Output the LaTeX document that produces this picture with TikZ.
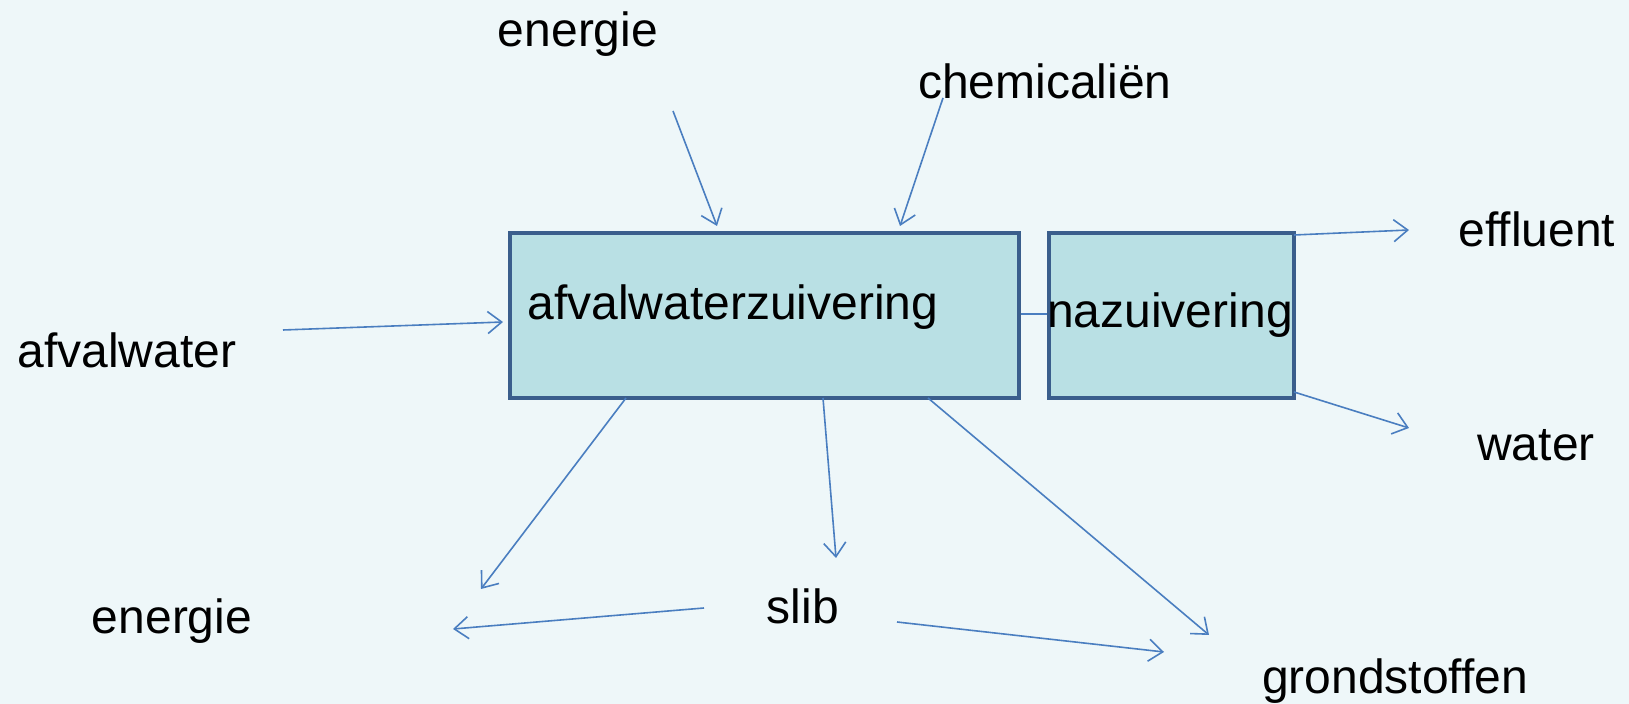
\documentclass[tikz,border=0pt]{standalone}
\usepackage{fontspec}
\setmainfont{Liberation Sans}
\usetikzlibrary{arrows.meta}
\definecolor{bg}{HTML}{EEF7F9}
\definecolor{boxfill}{HTML}{B9E0E4}
\definecolor{boxdraw}{HTML}{3A5E8C}
\definecolor{arr}{HTML}{4A7EC0}
\tikzset{
  box/.style={draw=boxdraw, fill=boxfill, line width=2.2pt, inner sep=0pt},
  lbl/.style={inner sep=0pt, font=\fontsize{24}{28}\selectfont},
  flow/.style={draw=arr, line width=0.8pt, -{Straight Barb[length=7pt,width=11pt,line width=0.8pt]}},
  link/.style={draw=arr, line width=0.8pt}
}
\begin{document}
\begin{tikzpicture}[x=0.5pt,y=-0.5pt]
\fill[bg] (0,0) rectangle (1629,704);
\useasboundingbox (0,0) rectangle (1629,704);
% boxes
\node[box, minimum width=254.5pt, minimum height=82.5pt, anchor=north west] (b1) at (508,231) {};
\node[box, minimum width=122.5pt, minimum height=82.5pt, anchor=north west] (b2) at (1047,231) {};
\node[lbl] (t1) at (733,307) {afvalwaterzuivering};
\node[lbl] (t2) at (1170,315) {nazuivering};
% labels
\node[lbl] (enIn) at (578,34) {energie};
\node[lbl] (chem) at (1045,81) {chemicaliën};
\node[lbl] (afv) at (127,350) {afvalwater};
\node[lbl] (eff) at (1537,229) {effluent};
\node[lbl] (wat) at (1536,445) {water};
\node[lbl] (enOut) at (172,621) {energie};
\node[lbl] (slib) at (803,606) {slib};
\node[lbl] (grond) at (1395,681) {grondstoffen};
% coordinates
\coordinate (enInS) at (673,111);
\coordinate (enInE) at (717,226);
\coordinate (chemS) at (943,98);
\coordinate (chemE) at (900,226);
\coordinate (afvS) at (283,330);
\coordinate (afvE) at (503,322);
\coordinate (effS) at (1294,235);
\coordinate (effE) at (1409,230);
\coordinate (watS) at (1294,392);
\coordinate (watE) at (1409,428);
\coordinate (b1a) at (626,398);
\coordinate (enOutE) at (481,589);
\coordinate (b1b) at (823,398);
\coordinate (slibE) at (836,558);
\coordinate (b1c) at (928,398);
\coordinate (grondE) at (1209,635);
\coordinate (slibL) at (704,608);
\coordinate (enOutE2) at (453,629);
\coordinate (slibR) at (897,622);
\coordinate (grondE2) at (1164,652);
% connectors
\draw[flow] (enInS) -- (enInE);
\draw[flow] (chemS) -- (chemE);
\draw[flow] (afvS) -- (afvE);
\draw[link] (b1.east |- 0,314) -- (b2.west |- 0,314);
\draw[flow] (effS) -- (effE);
\draw[flow] (watS) -- (watE);
\draw[flow] (b1a) -- (enOutE);
\draw[flow] (b1b) -- (slibE);
\draw[flow] (b1c) -- (grondE);
\draw[flow] (slibL) -- (enOutE2);
\draw[flow] (slibR) -- (grondE2);
\end{tikzpicture}
\end{document}
